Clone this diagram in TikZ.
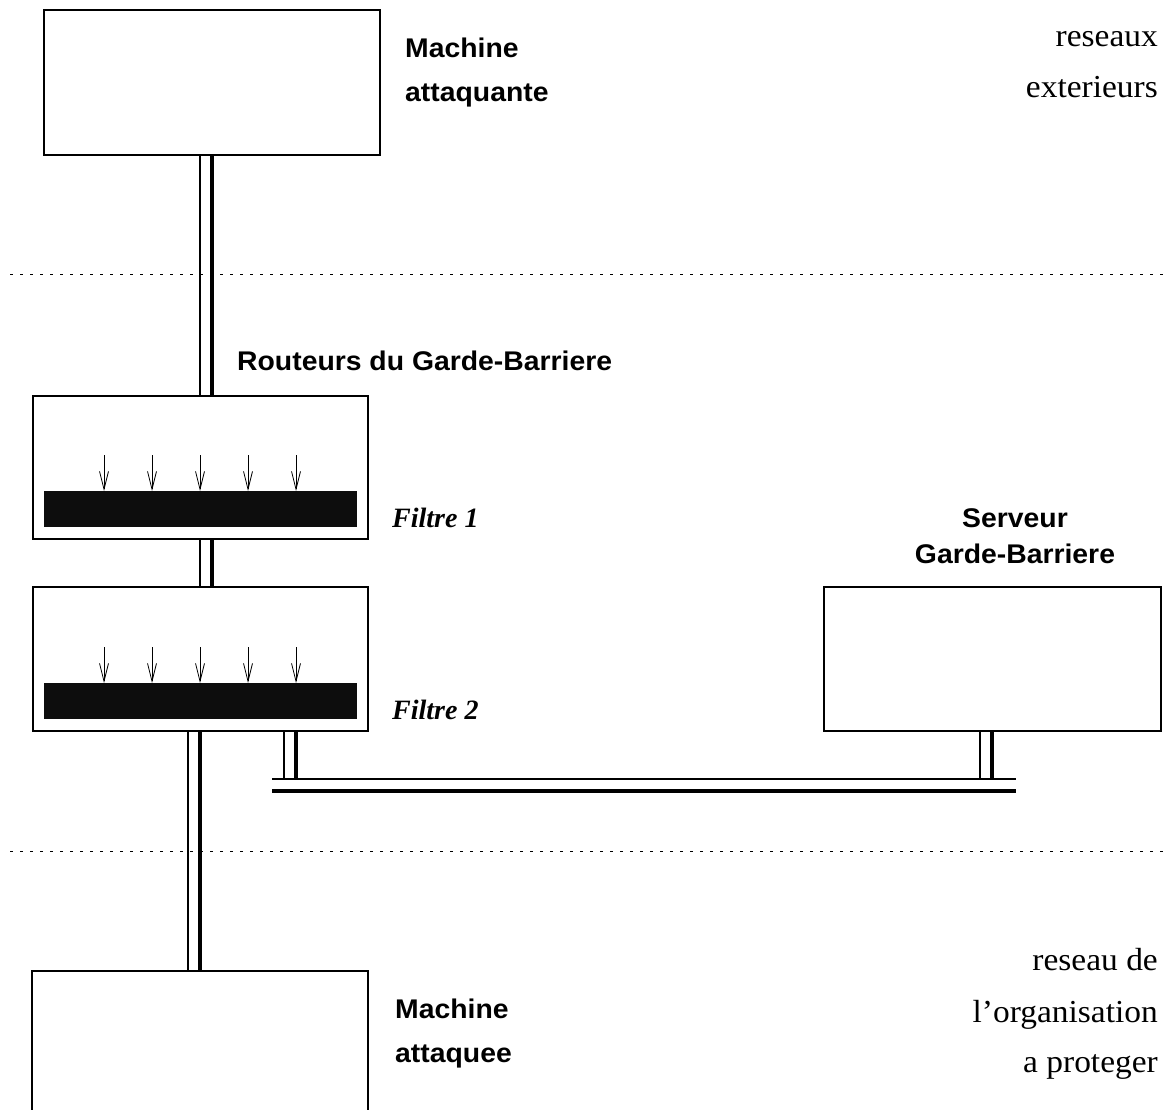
\documentclass[tikz,border=0pt]{standalone}
\usepackage{fontspec}
\usetikzlibrary{arrows.meta,calc}
\newfontfamily\sansb{Liberation Sans}[FakeStretch=1.05]
\newfontfamily\serifx{Liberation Serif}[FakeStretch=1.045]
\newfontfamily\serifbi{Liberation Serif}
\tikzset{
 box/.style={draw, line width=2pt, inner sep=0pt, outer sep=0pt, anchor=north west, fill=white},
 bar/.style={fill=black!95, inner sep=0pt, outer sep=0pt, anchor=north west, minimum width=313pt, minimum height=36pt},
 thinw/.style={line width=1.2pt},
 thickw/.style={line width=4pt},
 divider/.style={line width=1pt, dash pattern=on 3pt off 7pt},
 sanslab/.style={font=\sansb\bfseries\fontsize{27}{27}\selectfont, inner sep=0pt},
 seriflab/.style={font=\serifx\fontsize{32}{32}\selectfont, inner sep=0pt, anchor=base east},
 filtlab/.style={font=\serifbi\bfseries\itshape\fontsize{28}{28}\selectfont, inner sep=0pt, anchor=base west},
 flow/.style={line width=0.8pt, -{Straight Barb[length=18pt,width=9pt]}}
}
\begin{document}
\begin{tikzpicture}[x=1pt,y=-1pt]
\clip (0,0) rectangle (1168,1110);
\fill[white] (0,0) rectangle (1168,1110);
% dividers
\draw[divider] (10,275) -- (1168,275);
\draw[divider] (10,851) -- (1163,851);
% boxes
\node[box, minimum width=336pt, minimum height=145pt] (att) at (44,10) {};
\node[box, minimum width=335pt, minimum height=143pt] (r1) at (33,396) {};
\node[box, minimum width=335pt, minimum height=144pt] (r2) at (33,587) {};
\node[box, minimum width=337pt, minimum height=144pt] (srv) at (824,587) {};
\node[box, minimum width=336pt, minimum height=200pt] (vic) at (32,971) {};
% filter bars
\node[bar] (b1) at (44,491) {};
\node[bar] (b2) at (44,683) {};
\foreach \x in {104,152,200,248,296}{
  \draw[flow] (\x,455) -- (\x,0 |- b1.north);
  \draw[flow] (\x,647) -- (\x,0 |- b2.north);
}
% cables
\coordinate (xa) at (200,0);
\coordinate (xb) at (212,0);
\coordinate (xc) at (188,0);
\coordinate (xd) at (200,0);
\draw[thinw] (xa |- att.south) -- (xa |- r1.north);
\draw[thickw] (xb |- att.south) -- (xb |- r1.north);
\draw[thinw] (xa |- r1.south) -- (xa |- r2.north);
\draw[thickw] (xb |- r1.south) -- (xb |- r2.north);
\draw[thinw] (xc |- r2.south) -- (xc |- vic.north);
\draw[thickw] (xd |- r2.south) -- (xd |- vic.north);
% bus
\coordinate (busL) at (272,779);
\coordinate (busR) at (1016,779);
\draw[thinw] (busL) -- (busR);
\draw[thickw] ($(busL)+(0,12)$) -- ($(busR)+(0,12)$);
\draw[thinw] (284,0 |- r2.south) -- (284,0 |- busL);
\draw[thickw] (296,0 |- r2.south) -- (296,0 |- busL);
\draw[thinw] (980,0 |- srv.south) -- (980,0 |- busL);
\draw[thickw] (992,0 |- srv.south) -- (992,0 |- busL);
% labels
\node[sanslab, anchor=base west] (t1) at (405,58) {Machine};
\node[sanslab, anchor=base west] (t2) at (405,102) {attaquante};
\node[seriflab] (t3) at (1158,47) {reseaux};
\node[seriflab] (t4) at (1158,98) {exterieurs};
\node[sanslab, anchor=base west] (t5) at (237,370) {Routeurs du Garde-Barriere};
\node[filtlab] (t6) at (392,527) {Filtre 1};
\node[filtlab] (t7) at (392,719) {Filtre 2};
\node[sanslab, anchor=base] (t8) at (1015,527) {Serveur};
\node[sanslab, anchor=base] (t9) at (1015,563) {Garde-Barriere};
\node[sanslab, anchor=base west] (t10) at (395,1018) {Machine};
\node[sanslab, anchor=base west] (t11) at (395,1062) {attaquee};
\node[seriflab] (t12) at (1158,970) {reseau de};
\node[seriflab] (t13) at (1158,1022) {l’organisation};
\node[seriflab] (t14) at (1158,1072) {a proteger};
\end{tikzpicture}
\end{document}
